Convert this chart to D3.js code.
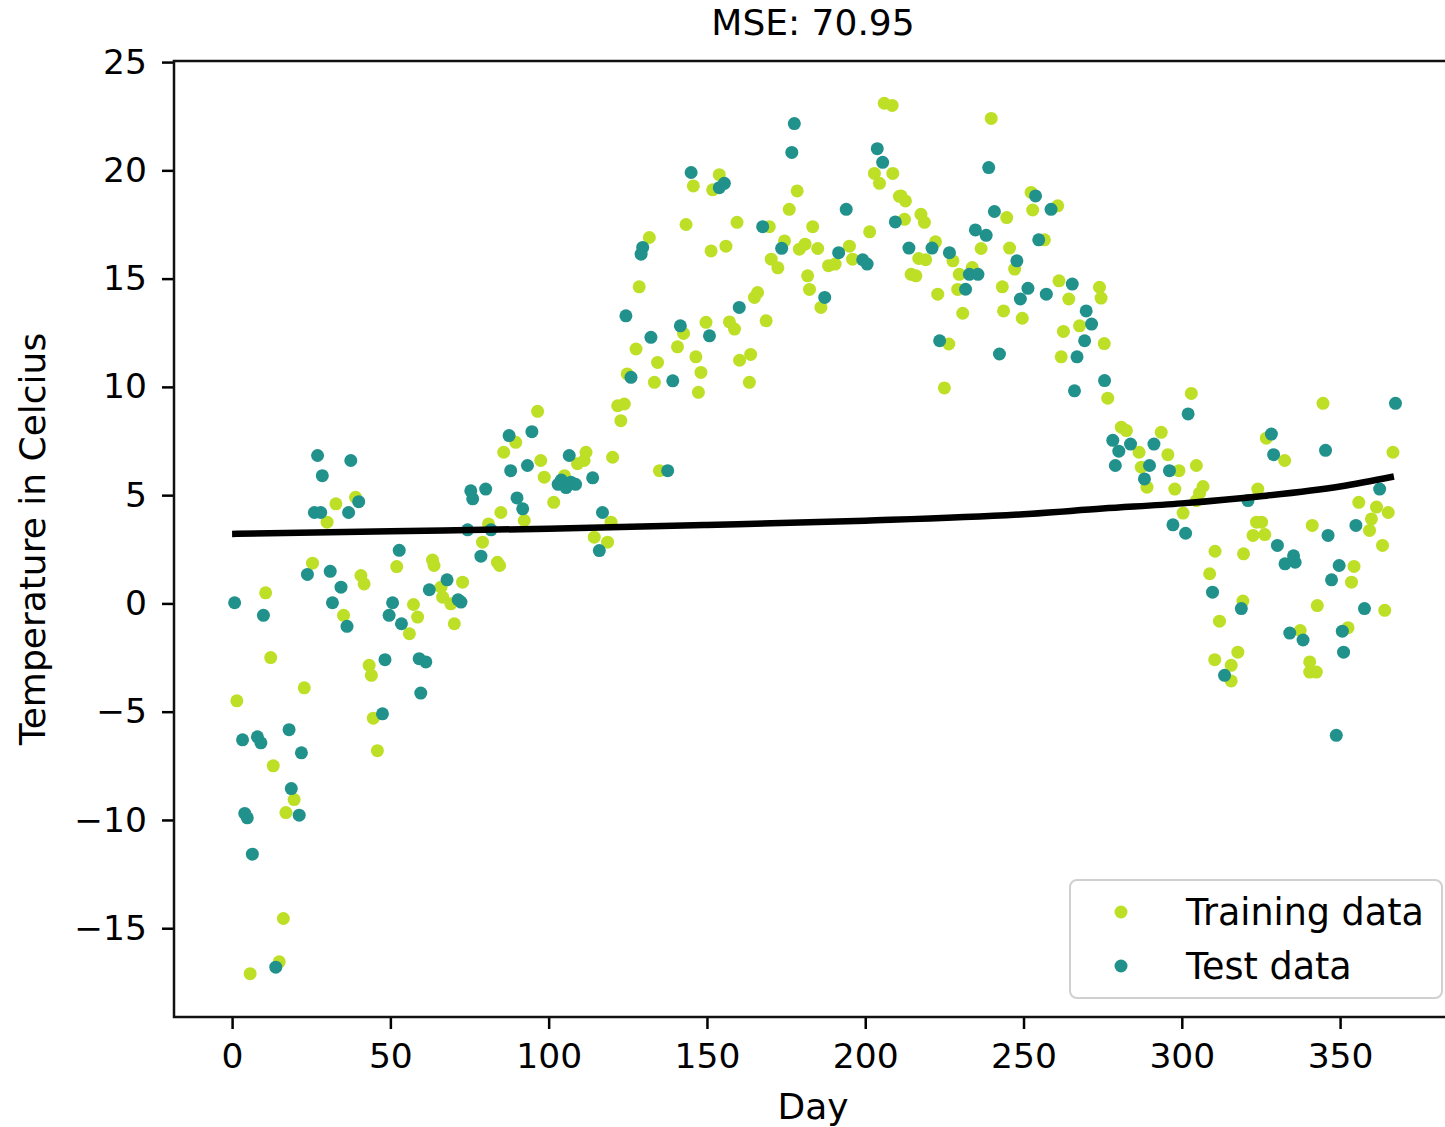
<!DOCTYPE html>
<html>
<head>
<meta charset="utf-8">
<script src="https://cdn.jsdelivr.net/npm/d3@7"></script>
<style>
  body { margin: 0; background: #fff; }
  text { font-family: "DejaVu Sans", sans-serif; fill: #000; }
</style>
</head>
<body>
<svg id="chart"></svg>
<script>
// [day, temperature]
const trainingData = [
    [1.5,-4.5],[5.7,-17.1],[10.6,0.49],[12.2,-2.5],[13,-7.5],[14.9,-16.55],[16.2,-14.55],[17,-9.66],[19.6,-9.06],
    [22.8,-3.9],[25.4,1.86],[30,3.75],[32.8,4.6],[35.2,-0.55],[39,4.9],[40.7,1.29],[41.7,0.9],[43.3,-2.86],
    [44,-3.32],[44.6,-5.3],[45.9,-6.8],[52,1.7],
    [56,-1.4],[57.3,-0.05],[58.6,-0.63],[63.3,2.0],[63.8,1.75],[66,0.75],[66.5,0.29],[69.1,-0.02],[70.2,-0.94],
    [72.8,0.98],[79.1,2.83],[81,3.67],[83.8,1.9],[84.5,1.75],[84.9,4.2],[85.8,6.98],[89.6,7.44],[92.3,3.83],
    [96.5,8.87],[97.5,6.6],[98.6,5.83],[101.6,4.67],
    [105,5.9],[109.1,6.45],[111.2,6.6],[111.8,6.98],[114.4,3.06],[118.6,2.83],[119.7,3.75],[120.2,6.75],
    [121.8,9.13],[122.8,8.44],[123.9,9.21],[124.8,10.6],[127.6,11.75],[128.6,14.62],[131.8,16.9],[133.4,10.21],
    [134.4,11.13],[135,6.13],[140.7,11.85],[142.6,12.47],[143.4,17.5],[145.7,19.28],[146.5,11.39],[147.3,9.75],
    [148.1,10.67],[149.7,12.98],[151.3,16.28],[151.8,19.1],[153.9,19.8],
    [156,16.5],[157.1,13.0],[158.7,12.67],[159.5,17.6],[160.3,11.23],[163.4,10.21],[163.8,11.5],[165,14.13],
    [166,14.36],[168.7,13.05],[169.7,17.4],[170.3,15.9],[172.4,15.5],[174.5,16.74],[176,18.2],[178.5,19.05],
    [179.2,16.36],[181,16.59],[181.8,15.13],[182.4,14.5],[183.4,17.4],[185,16.39],[186,13.67],[188.4,15.6],
    [190.5,15.67],[195,16.5],[196,15.9],[201.4,17.16],[202.9,19.86],[204.5,19.4],[206,23.1],[208.5,23.0],
    [208.7,19.86],[210.8,18.8],
    [211.3,18.82],[212.7,18.59],[212.4,17.74],[214.5,15.2],[216,15.13],[216.9,15.93],[217.6,17.97],[218.7,17.6],
    [219.1,15.87],[222.2,16.7],[222.9,14.28],[225,9.95],[226.4,11.98],[227.7,15.82],[229.2,14.5],[229.7,15.2],
    [230.8,13.4],[233.8,15.51],[236.6,16.39],[239.8,22.4],[243.3,14.62],[243.7,13.51],[244.7,17.82],[245.6,16.41],
    [247.2,15.44],[249.6,13.17],[252.4,18.98],[252.9,18.17],[256.6,16.79],[260.8,18.36],[261.2,14.9],[261.9,11.39],
    [262.6,12.56],[264.3,14.06],[267.7,12.82],[274,14.6],[274.5,14.1],[275.5,12.0],[276.6,9.48],
    [280.9,8.14],[282.5,7.98],[286.5,6.98],[287.2,6.29],[289,5.37],[293.5,7.9],[295.6,6.87],[297.8,5.28],
    [299.1,6.13],[300.4,4.17],[303,9.7],[304.6,6.37],[304.6,4.75],[305.6,5.09],[306.7,5.4],[308.8,1.37],
    [310.5,2.41],[310.4,-2.6],[311.9,-0.82],[315.6,-2.86],[315.6,-3.58],[317.7,-2.25],[319.3,0.11],[319.5,2.29],
    [322.5,3.14],[323.6,3.75],[324,5.28],[325.2,3.75],[326.2,3.18],[326.7,7.63],[332.5,6.6],[337.4,-1.25],
    [340.4,-2.7],[340.4,-3.17],[342.5,-3.17],[341.2,3.6],[342.8,-0.1],[344.6,9.24],[352.5,-1.12],[353.6,0.98],
    [354.4,1.71],[355.9,4.67],[359.3,3.37],[359.9,3.9],[361.5,4.45],[363.4,2.68],[364.1,-0.32],[365.2,4.2],
    [366.7,6.98]
];

const testData = [
    [0.8,0.03],[3.3,-6.3],[4,-9.7],[4.8,-9.9],[6.4,-11.58],[8,-6.16],[9.1,-6.44],[9.9,-0.55],[13.8,-16.8],
    [18,-5.83],[18.7,-8.55],[21.2,-9.78],[21.9,-6.9],[23.8,1.34],[26,4.2],[28,4.2],[27,6.83],[28.5,5.9],
    [31,1.48],[31.7,0.03],[34.4,0.75],[36.3,-1.06],[36.8,4.2],[37.5,6.6],[40,4.7],[47.5,-5.1],[48.3,-2.6],
    [49.6,-0.55],[50.7,0.03],[52.8,2.45],[53.5,-0.94],
    [59.1,-2.55],[59.6,-4.14],[61.2,-2.7],[62.3,0.63],[67.9,1.09],[71.4,0.17],[72.3,0.06],[74.4,3.4],[75.4,5.2],
    [76,4.83],[78.6,2.18],[80.1,5.28],[81.8,3.4],[87.5,7.75],[88,6.13],[90,4.87],[91.8,4.37],[93.3,6.37],[94.7,7.93],
    [103,5.5],[104,5.7],[105.5,5.35],[107,5.6],[108.5,5.5],[106.5,6.83],[113.9,5.8],[116,2.44],[117,4.2],
    [124.4,13.28],[126,10.44],[129.2,16.13],[129.7,16.44],[132.3,12.29],[137.6,6.13],[139.2,10.28],[141.6,12.82],
    [145,19.9],[150.8,12.36],
    [153.9,19.2],[155.5,19.4],[160.2,13.67],[167.6,17.4],[173.6,16.4],[176.8,20.83],[177.6,22.16],[187.2,14.13],
    [191.6,16.2],[194,18.2],[199.2,15.87],[200.6,15.67],[203.8,21.0],[205.5,20.37],[209.5,17.62],
    [213.8,16.41],[221.1,16.41],[223.5,12.13],[226.6,16.2],[231.7,14.51],[232.9,15.2],[235.6,15.2],[234.8,17.25],
    [238.2,17.0],[239,20.13],[240.8,18.1],[242.4,11.52],[247.9,15.82],[249,14.06],[251.4,14.55],[253.8,18.82],
    [254.8,16.79],[257.2,14.28],[258.7,18.2],[265.4,14.75],[266.1,9.82],[266.9,11.39],[269.3,12.13],[269.8,13.51],
    [271.5,12.9],[275.6,10.29],
    [278.2,7.53],[279,6.37],[280.1,7.03],[283.8,7.36],[288.2,5.75],[289.8,6.37],[291.2,7.36],[296.1,6.13],
    [297.2,3.63],[301.2,3.24],[302,8.75],[309.7,0.52],[313.5,-3.32],[318.8,-0.24],[320.9,4.75],[328.3,7.82],
    [329,6.87],[330.2,2.68],[332.6,1.83],[334.1,-1.37],[335.3,2.2],[335.8,1.9],[338.3,-1.69],[345.4,7.07],
    [346.2,3.14],[347.3,1.09],[348.8,-6.09],[349.7,1.75],[350.7,-1.28],[351.1,-2.25],[355,3.6],[357.7,-0.24],
    [362.5,5.28],[367.5,9.24]
];

// fitted curve
const fitLine = [
    [0,3.21],[50,3.33],[100,3.45],[150,3.62],[200,3.82],[250,4.12],[275,4.38],
    [300,4.62],[325,4.95],[350,5.4],[367,5.86]
];

const xTicks = [0, 50, 100, 150, 200, 250, 300, 350];
const yTicks = [-15, -10, -5, 0, 5, 10, 15, 20, 25];
const seriesNames = ['Training data', 'Test data'];
const seriesColors = ['#bddf26', '#21918c'];

const width = 1445;
const height = 1127;
const plotLeft = 174, plotRight = 1452, plotTop = 61, plotBottom = 1017;

const svg = d3.select('#chart')
    .attr('width', width)
    .attr('height', height);

const x = d3.scaleLinear().domain([-18.35, 385.35]).range([plotLeft, plotRight]);
const y = d3.scaleLinear().domain([-19.1, 25.05]).range([plotBottom, plotTop]);

const xAxis = svg.append('g')
    .attr('transform', `translate(0,${plotBottom})`)
    .call(d3.axisBottom(x).tickValues(xTicks).tickSize(12).tickSizeOuter(0).tickPadding(15));
const yAxis = svg.append('g')
    .attr('transform', `translate(${plotLeft},0)`)
    .call(d3.axisLeft(y).tickValues(yTicks).tickSize(12).tickSizeOuter(0).tickPadding(15));

[xAxis, yAxis].forEach(function(g) {
    g.select('.domain').remove();
    g.selectAll('.tick line').attr('stroke', '#000').attr('stroke-width', 2.5);
    g.selectAll('.tick text').attr('font-size', 34.5).attr('font-family', 'DejaVu Sans').attr('fill', '#111');
});

// points
svg.append('g').selectAll('circle')
    .data(trainingData)
    .enter()
    .append('circle')
    .attr('cx', d => x(d[0]))
    .attr('cy', d => y(d[1]))
    .attr('r', 6.5)
    .attr('fill', seriesColors[0]);

svg.append('g').selectAll('circle')
    .data(testData)
    .enter()
    .append('circle')
    .attr('cx', d => x(d[0]))
    .attr('cy', d => y(d[1]))
    .attr('r', 6.5)
    .attr('fill', seriesColors[1]);

const line = d3.line()
    .x(d => x(d[0]))
    .y(d => y(d[1]))
    .curve(d3.curveMonotoneX);

svg.append('path')
    .datum(fitLine)
    .attr('d', line)
    .attr('fill', 'none')
    .attr('stroke', '#000')
    .attr('stroke-width', 6.5);

// spines
svg.append('rect')
    .attr('x', plotLeft)
    .attr('y', plotTop)
    .attr('width', plotRight - plotLeft)
    .attr('height', plotBottom - plotTop)
    .attr('fill', 'none')
    .attr('stroke', '#111')
    .attr('stroke-width', 2.5);

// texts
svg.append('text')
    .attr('x', (plotLeft + plotRight) / 2)
    .attr('y', 35)
    .attr('text-anchor', 'middle')
    .attr('font-size', 36)
    .attr('fill', '#111')
    .text('MSE: 70.95');

svg.append('text')
    .attr('x', (plotLeft + plotRight) / 2)
    .attr('y', 1119)
    .attr('text-anchor', 'middle')
    .attr('font-size', 36)
    .attr('fill', '#111')
    .text('Day');

svg.append('text')
    .attr('transform', `translate(45,${(plotTop + plotBottom) / 2}) rotate(-90)`)
    .attr('text-anchor', 'middle')
    .attr('font-size', 36)
    .attr('fill', '#111')
    .text('Temperature in Celcius');

// legend
const legend = svg.append('g');
legend.append('rect')
    .attr('x', 1070)
    .attr('y', 880)
    .attr('width', 372)
    .attr('height', 118)
    .attr('rx', 7)
    .attr('fill', '#fff')
    .attr('fill-opacity', 0.8)
    .attr('stroke', '#d0d0d0')
    .attr('stroke-width', 2);

seriesNames.forEach(function(name, i) {
    legend.append('circle')
        .attr('cx', 1121)
        .attr('cy', 912 + i * 54)
        .attr('r', 6.5)
        .attr('fill', seriesColors[i]);
    legend.append('text')
        .attr('x', 1186)
        .attr('y', 912 + i * 54)
        .attr('dy', '0.36em')
        .attr('font-size', 36.5)
        .attr('fill', '#111')
        .text(name);
});
</script>
</body>
</html>
